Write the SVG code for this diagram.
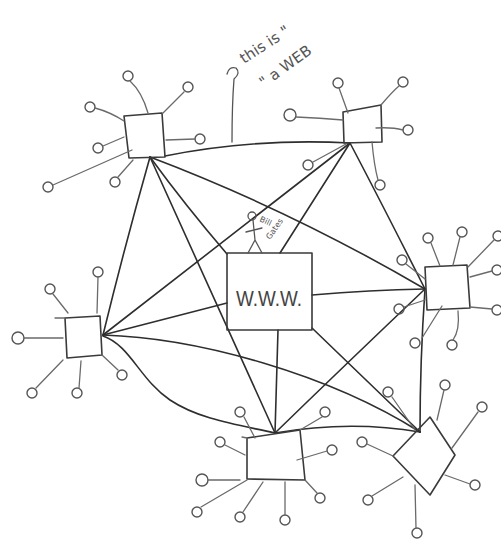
<svg xmlns="http://www.w3.org/2000/svg" width="501" height="541" viewBox="0 0 501 541">
<style>
.bg{fill:#ffffff}
.box{fill:none;stroke:#3a3a3a;stroke-width:1.6;stroke-linejoin:round}
.sat{fill:none;stroke:#6a6a6a;stroke-width:1.3;stroke-linecap:round}
.dot{fill:none;stroke:#555;stroke-width:1.4}
.con{fill:none;stroke:#2e2e2e;stroke-width:1.6;stroke-linecap:round}
.hand{font-family:"DejaVu Sans","Liberation Sans",sans-serif;fill:#555}
.www{font-family:"Liberation Sans","DejaVu Sans",sans-serif;fill:#444;font-size:22px}
</style>
<rect class="bg" x="0" y="0" width="501" height="541"/>

<g id="connectors">
  <path class="con" d="M165,156 Q255,138 350,143"/>
  <path class="con" d="M150,157 Q125,245 103,335"/>
  <path class="con" d="M150,157 Q185,205 227,254"/>
  <path class="con" d="M150,157 L275,433"/>
  <path class="con" d="M150,157 Q290,210 425,289"/>
  <path class="con" d="M350,143 L103,335"/>
  <path class="con" d="M350,143 L280,253"/>
  <path class="con" d="M350,143 Q380,200 425,289"/>
  <path class="con" d="M103,335 L227,303"/>
  <path class="con" d="M103,335 C200,338 330,375 420,432"/>
  <path class="con" d="M103,336 C130,345 140,380 170,400 S240,425 275,433"/>
  <path class="con" d="M312,295 Q370,290 425,289"/>
  <path class="con" d="M278,330 L275,433"/>
  <path class="con" d="M312,328 L420,432"/>
  <path class="con" d="M275,433 Q345,365 425,289"/>
  <path class="con" d="M275,433 Q350,420 420,432"/>
  <path class="con" d="M425,289 Q420,360 420,432"/>
</g>

<g id="node-www">
  <rect class="box" x="227" y="253" width="85" height="77"/>
  <text class="www" x="236" y="306" textLength="66" lengthAdjust="spacingAndGlyphs">W.W.W.</text>
  <g id="stick-figure" class="sat" style="stroke:#555">
    <circle cx="252" cy="216" r="4"/>
    <path d="M253,220 L255,240 M246,232 L262,228 M255,240 L248,253 M255,240 L262,253"/>
  </g>
  <text class="hand" font-size="8" transform="translate(259,221) rotate(25)">Bill</text>
  <text class="hand" font-size="8" transform="translate(270,240) rotate(-55)">Gates</text>
</g>

<g id="note">
  <path class="sat" style="stroke:#555" d="M227,74 Q229,66 236,68 Q241,73 234,79 Q232,105 232,142"/>
  <text class="hand" font-size="15" transform="translate(244,64) rotate(-33)">this is "</text>
  <text class="hand" font-size="15" transform="translate(264,88) rotate(-36)">" a WEB</text>
</g>

<g id="node-tl">
  <polygon class="box" points="124,116 162,113 165,157 129,158"/>
  <circle class="dot" cx="128" cy="76" r="5"/><path class="sat" d="M148,113 Q142,92 130,81"/>
  <circle class="dot" cx="188" cy="87" r="5"/><path class="sat" d="M163,113 L184,92"/>
  <circle class="dot" cx="90" cy="107" r="5"/><path class="sat" d="M95,108 Q110,112 124,121"/>
  <circle class="dot" cx="98" cy="148" r="5"/><path class="sat" d="M103,146 L124,137"/>
  <circle class="dot" cx="115" cy="182" r="5"/><path class="sat" d="M118,177 L133,160"/>
  <circle class="dot" cx="200" cy="139" r="5"/><path class="sat" d="M166,140 L195,139"/>
  <circle class="dot" cx="48" cy="187" r="5"/><path class="sat" d="M53,185 L132,150"/>
</g>

<g id="node-tr">
  <polygon class="box" points="343,112 381,105 382,142 344,143"/>
  <circle class="dot" cx="338" cy="83" r="5"/><path class="sat" d="M339,88 L348,113"/>
  <circle class="dot" cx="290" cy="115" r="6"/><path class="sat" d="M296,117 Q320,118 343,120"/>
  <circle class="dot" cx="403" cy="82" r="5"/><path class="sat" d="M381,105 Q392,92 399,86"/>
  <circle class="dot" cx="408" cy="130" r="5"/><path class="sat" d="M376,128 Q392,127 403,130"/>
  <circle class="dot" cx="380" cy="185" r="5"/><path class="sat" d="M372,142 Q374,165 378,180"/>
  <circle class="dot" cx="308" cy="165" r="5"/><path class="sat" d="M313,162 L346,144"/>
</g>

<g id="node-r">
  <polygon class="box" points="425,267 467,265 470,308 427,310"/>
  <circle class="dot" cx="428" cy="238" r="5"/><path class="sat" d="M431,243 L440,266"/>
  <circle class="dot" cx="462" cy="232" r="5"/><path class="sat" d="M460,237 L453,265"/>
  <circle class="dot" cx="498" cy="236" r="5"/><path class="sat" d="M468,267 L494,240"/>
  <circle class="dot" cx="497" cy="270" r="5"/><path class="sat" d="M470,277 L492,271"/>
  <circle class="dot" cx="497" cy="310" r="5"/><path class="sat" d="M470,307 L492,309"/>
  <circle class="dot" cx="452" cy="345" r="5"/><path class="sat" d="M458,311 Q460,330 453,340"/>
  <circle class="dot" cx="415" cy="343" r="5"/><path class="sat" d="M442,306 L422,338"/>
  <circle class="dot" cx="402" cy="260" r="5"/><path class="sat" d="M406,264 L425,279"/>
  <circle class="dot" cx="399" cy="309" r="5"/><path class="sat" d="M404,307 L425,300"/>
</g>

<g id="node-l">
  <polygon class="box" points="65,318 100,316 102,355 67,358"/>
  <path class="sat" d="M55,318 L65,318"/>
  <circle class="dot" cx="50" cy="289" r="5"/><path class="sat" d="M53,294 L68,313"/>
  <circle class="dot" cx="98" cy="272" r="5"/><path class="sat" d="M98,277 L97,313"/>
  <circle class="dot" cx="18" cy="338" r="6"/><path class="sat" d="M24,338 L63,338"/>
  <circle class="dot" cx="32" cy="393" r="5"/><path class="sat" d="M36,388 L63,360"/>
  <circle class="dot" cx="77" cy="393" r="5"/><path class="sat" d="M81,361 L79,388"/>
  <circle class="dot" cx="122" cy="375" r="5"/><path class="sat" d="M102,355 L118,370"/>
</g>

<g id="node-b">
  <polygon class="box" points="247,438 300,430 305,480 247,479"/>
  <path class="sat" d="M242,437 L247,438"/>
  <circle class="dot" cx="240" cy="412" r="5"/><path class="sat" d="M244,417 L255,438"/>
  <circle class="dot" cx="220" cy="442" r="5"/><path class="sat" d="M225,445 L245,455"/>
  <circle class="dot" cx="202" cy="480" r="6"/><path class="sat" d="M208,480 L240,480"/>
  <circle class="dot" cx="197" cy="512" r="5"/><path class="sat" d="M201,507 L247,480"/>
  <circle class="dot" cx="240" cy="517" r="5"/><path class="sat" d="M243,512 L263,482"/>
  <circle class="dot" cx="285" cy="520" r="5"/><path class="sat" d="M285,515 L285,482"/>
  <circle class="dot" cx="320" cy="498" r="5"/><path class="sat" d="M317,493 L305,480"/>
  <circle class="dot" cx="332" cy="450" r="5"/><path class="sat" d="M327,451 L297,460"/>
  <circle class="dot" cx="325" cy="412" r="5"/><path class="sat" d="M322,417 L300,430"/>
</g>

<g id="node-br">
  <polygon class="box" points="430,417 455,455 430,495 393,456"/>
  <circle class="dot" cx="388" cy="392" r="5"/><path class="sat" d="M392,397 L415,430"/>
  <circle class="dot" cx="445" cy="385" r="5"/><path class="sat" d="M444,390 L437,420"/>
  <circle class="dot" cx="482" cy="407" r="5"/><path class="sat" d="M478,412 L452,448"/>
  <circle class="dot" cx="475" cy="485" r="5"/><path class="sat" d="M470,484 L445,475"/>
  <circle class="dot" cx="417" cy="533" r="5"/><path class="sat" d="M415,485 L416,528"/>
  <circle class="dot" cx="368" cy="500" r="5"/><path class="sat" d="M372,496 L403,477"/>
  <circle class="dot" cx="362" cy="442" r="5"/><path class="sat" d="M367,444 L393,456"/>
</g>
</svg>
